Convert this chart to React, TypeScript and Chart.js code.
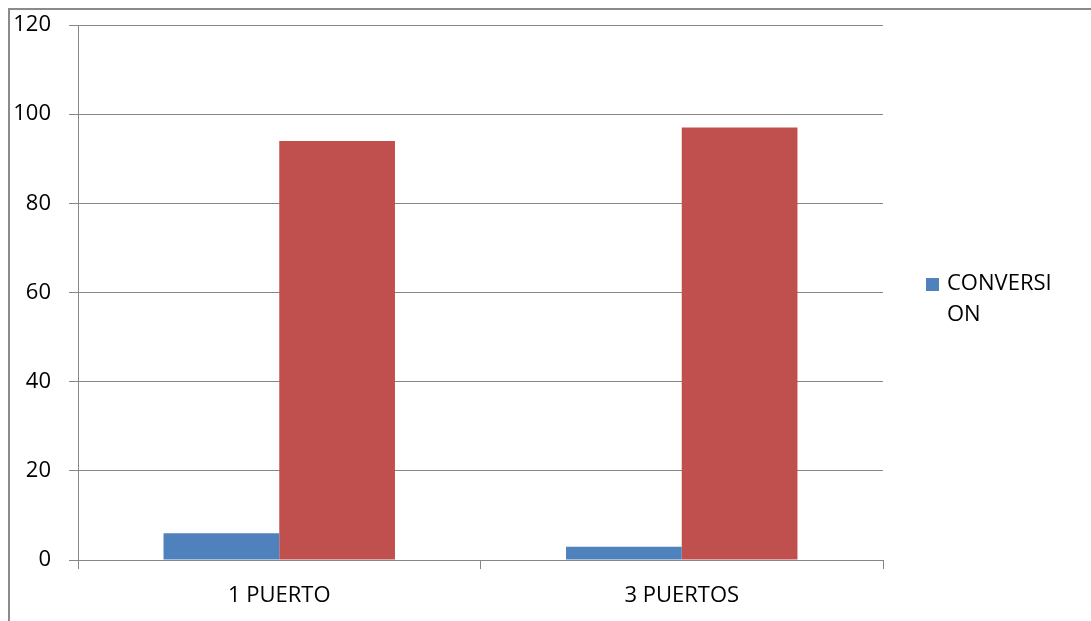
import React, { useEffect, useRef } from "react";
import { Chart, registerables } from "chart.js";

Chart.register(...registerables);

// Categories and series values
const categories = ["1 PUERTO", "3 PUERTOS"];
const conversion = [6, 3];
const secondSeries = [94, 97];
const legendLines = ["CONVERSI", "ON"];

const Y_MIN = 0;
const Y_MAX = 120;
const Y_STEP = 20;

const BLUE = "#4F81BD";
const RED = "#C0504D";
const GRID = "#868686";
const FONT = "'Open Sans', sans-serif";
const FONT_SIZE = 22;

// Wrapped legend drawn to the right of the plot area
const sideLegend = {
  id: "sideLegend",
  afterDraw(chart: any) {
    const { ctx, chartArea } = chart;
    const x = chartArea.right + 43;
    const y = chartArea.top + 253;
    ctx.save();
    ctx.fillStyle = BLUE;
    ctx.fillRect(x, y, 13, 13);
    ctx.fillStyle = "#000";
    ctx.font = `${FONT_SIZE}px ${FONT}`;
    ctx.textBaseline = "middle";
    ctx.textAlign = "left";
    legendLines.forEach((line, i) => {
      ctx.fillText(line, x + 21, y + 6 + i * 31);
    });
    ctx.restore();
  },
};

export default function App() {
  const canvasRef = useRef<HTMLCanvasElement | null>(null);

  useEffect(() => {
    if (!canvasRef.current) return;
    const chart = new Chart(canvasRef.current, {
      type: "bar",
      data: {
        labels: categories,
        datasets: [
          {
            label: "CONVERSION",
            data: conversion,
            backgroundColor: BLUE,
            categoryPercentage: 0.575,
            barPercentage: 1,
          },
          {
            label: "",
            data: secondSeries,
            backgroundColor: RED,
            categoryPercentage: 0.575,
            barPercentage: 1,
          },
        ],
      },
      options: {
        animation: false,
        responsive: false,
        layout: { padding: { top: 25, right: 208, bottom: 0, left: 0 } },
        plugins: {
          legend: { display: false },
          tooltip: { enabled: false },
        },
        scales: {
          x: {
            grid: {
              drawOnChartArea: false,
              drawTicks: true,
              tickLength: 9,
              color: GRID,
            },
            border: { color: GRID },
            ticks: {
              color: "#000",
              font: { family: FONT, size: FONT_SIZE },
              padding: 14,
              maxRotation: 0,
            },
            afterFit(scale: any) {
              scale.height = 61;
            },
          },
          y: {
            min: Y_MIN,
            max: Y_MAX,
            grid: { color: GRID, tickLength: 9 },
            border: { color: GRID },
            ticks: {
              stepSize: Y_STEP,
              color: "#000",
              font: { family: FONT, size: FONT_SIZE },
              padding: 18,
            },
            afterFit(scale: any) {
              scale.width = 78;
              scale.paddingTop = 0;
              scale.paddingBottom = 0;
            },
          },
        },
      },
      plugins: [sideLegend],
    });
    return () => chart.destroy();
  }, []);

  return (
    <div
      style={{
        position: "fixed",
        left: 0,
        top: 0,
        width: 1091,
        height: 621,
        overflow: "hidden",
        background: "#fff",
      }}
    >
      <div
        style={{
          position: "absolute",
          left: 8,
          top: 8,
          width: 1200,
          height: 700,
          border: "2px solid #8a8a8a",
        }}
      />
      <canvas
        ref={canvasRef}
        width={1091}
        height={621}
        style={{ position: "absolute", left: 0, top: 0 }}
      />
    </div>
  );
}
